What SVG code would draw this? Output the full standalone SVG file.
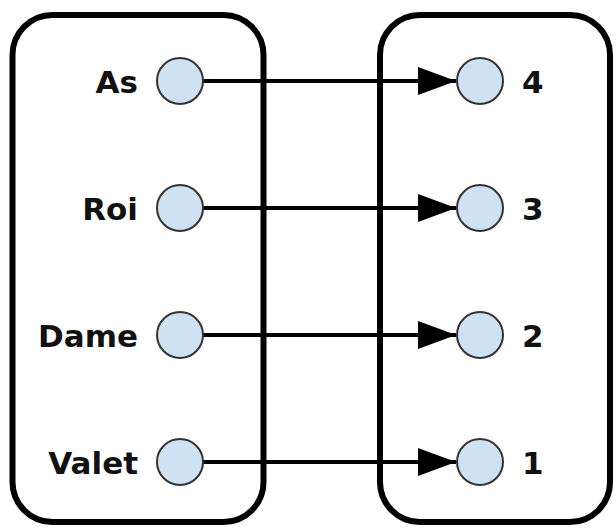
<svg xmlns="http://www.w3.org/2000/svg" width="616" height="528" viewBox="0 0 616 528">
  <style>
    .set { fill: none; stroke: #000; stroke-width: 6; }
    .dot { fill: #cfe2f3; stroke: #333; stroke-width: 2; }
    .lbl { font-family: "DejaVu Sans", "Open Sans", sans-serif; font-weight: bold; font-size: 31px; fill: #111; }
    .edge { stroke: #000; stroke-width: 4; fill: none; marker-end: url(#arrow); }
  </style>
  <defs>
    <marker id="arrow" markerUnits="userSpaceOnUse" markerWidth="40" markerHeight="30" refX="38" refY="14" orient="auto">
      <path d="M0,0 L38,14 L0,28 Z" fill="#000"/>
    </marker>
  </defs>
  <rect width="616" height="528" fill="#fff"/>

  <!-- domain set -->
  <g id="domain">
    <rect class="set" x="12.5" y="15" width="251" height="507" rx="40"/>
  </g>
  <!-- codomain set -->
  <g id="codomain">
    <rect class="set" x="380" y="15" width="230" height="507" rx="40"/>
  </g>

  <g id="connectors">
    <line class="edge" x1="203" y1="81" x2="456" y2="81"/>
    <line class="edge" x1="203" y1="208" x2="456" y2="208"/>
    <line class="edge" x1="203" y1="335" x2="456" y2="335"/>
    <line class="edge" x1="203" y1="462" x2="456" y2="462"/>
  </g>

  <g id="as">
    <circle class="dot" cx="180" cy="81" r="23"/>
    <text class="lbl" x="138" y="93" text-anchor="end">As</text>
  </g>
  <g id="roi">
    <circle class="dot" cx="180" cy="208" r="23"/>
    <text class="lbl" x="138" y="220" text-anchor="end">Roi</text>
  </g>
  <g id="dame">
    <circle class="dot" cx="180" cy="335" r="23"/>
    <text class="lbl" x="138" y="347" text-anchor="end">Dame</text>
  </g>
  <g id="valet">
    <circle class="dot" cx="180" cy="462" r="23"/>
    <text class="lbl" x="138" y="474" text-anchor="end">Valet</text>
  </g>

  <g id="n4">
    <circle class="dot" cx="480" cy="81" r="23"/>
    <text class="lbl" x="522" y="93">4</text>
  </g>
  <g id="n3">
    <circle class="dot" cx="480" cy="208" r="23"/>
    <text class="lbl" x="522" y="220">3</text>
  </g>
  <g id="n2">
    <circle class="dot" cx="480" cy="335" r="23"/>
    <text class="lbl" x="522" y="347">2</text>
  </g>
  <g id="n1">
    <circle class="dot" cx="480" cy="462" r="23"/>
    <text class="lbl" x="522" y="474">1</text>
  </g>
</svg>
